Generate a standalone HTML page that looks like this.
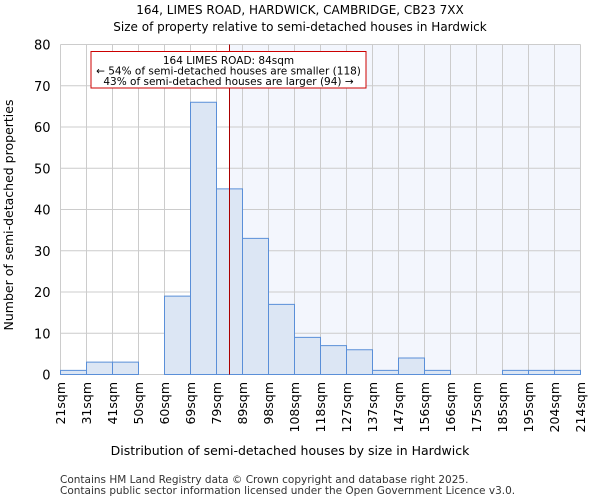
<!DOCTYPE html>
<html><head><meta charset="utf-8"><style>
body{margin:0;background:#fff;font-family:"DejaVu Sans","Liberation Sans",sans-serif}
</style></head><body>
<svg width="600" height="500" viewBox="0 0 600 500" xmlns="http://www.w3.org/2000/svg" font-family="DejaVu Sans, Liberation Sans, sans-serif">
<g id="root"></g>
</svg>
<script>
const binLabels=["21sqm","31sqm","41sqm","50sqm","60sqm","69sqm","79sqm","89sqm","98sqm","108sqm","118sqm","127sqm","137sqm","147sqm","156sqm","166sqm","175sqm","185sqm","195sqm","204sqm","214sqm"];
const counts=[1,3,3,0,19,66,45,33,17,9,7,6,1,4,1,0,0,1,1,1];
const yTicks=[0,10,20,30,40,50,60,70,80];
const markerBin=6.5;
const NS="http://www.w3.org/2000/svg";
const root=document.getElementById('root');
const X0=60.5,BW=26,Y0=374.5,YT=44.5,YMAX=80;
const xs=i=>X0+i*BW;
const ys=v=>Y0-(v/YMAX)*(Y0-YT);
function el(t,a,txt){const e=document.createElementNS(NS,t);for(const k in a)e.setAttribute(k,a[k]);if(txt!==undefined)e.textContent=txt;root.appendChild(e);return e;}
const n=counts.length;const XR=xs(n);
let e;
e=el('text',{x:300,y:14,'text-anchor':'middle','font-size':12},'164, LIMES ROAD, HARDWICK, CAMBRIDGE, CB23 7XX');

e=el('text',{x:300,y:31,'text-anchor':'middle','font-size':12},'Size of property relative to semi-detached houses in Hardwick');

const mx=xs(markerBin);
e=el('rect',{x:mx,y:YT,width:XR-mx,height:Y0-YT,fill:'#f3f6fd'});

for(let i=0;i<=n;i++){e=el('line',{x1:xs(i),x2:xs(i),y1:YT,y2:Y0,stroke:'#cccccc','stroke-width':1});
}
yTicks.forEach(t=>{e=el('line',{x1:X0,x2:XR,y1:ys(t),y2:ys(t),stroke:'#cccccc','stroke-width':1});

e=el('text',{x:X0-10,y:ys(t)+5,'text-anchor':'end','font-size':13},String(t));
});
counts.forEach((c,i)=>{if(c<=0)return;e=el('rect',{x:xs(i),y:ys(c),width:BW,height:Y0-ys(c),fill:'#dce6f4',stroke:'#5a8fd8','stroke-width':1});
});
e=el('line',{x1:mx,x2:mx,y1:YT,y2:Y0,stroke:'#aa0000','stroke-width':1});

binLabels.forEach((l,i)=>{const x=xs(i)+4.5;e=el('text',{x:x,y:382,'text-anchor':'end','font-size':12.5,transform:`rotate(-90 ${x} 382)`},l);
});
e=el('rect',{x:91,y:51.5,width:275,height:36.5,fill:'#fff',stroke:'#cc0000','stroke-width':1});

[['164 LIMES ROAD: 84sqm',62],['← 54% of semi-detached houses are smaller (118)',72.5],['43% of semi-detached houses are larger (94) →',83]].forEach(([t,y])=>{
e=el('text',{x:228.5,y:y+2,'text-anchor':'middle','font-size':10.5},t);});
e=el('text',{x:290,y:455,'text-anchor':'middle','font-size':12.5},'Distribution of semi-detached houses by size in Hardwick');

e=el('text',{x:13,y:215,'text-anchor':'middle','font-size':12.5,transform:'rotate(-90 13 215)'},'Number of semi-detached properties');

e=el('text',{x:60,y:483,'font-size':10.5,fill:'#333'},'Contains HM Land Registry data © Crown copyright and database right 2025.');

e=el('text',{x:60,y:494,'font-size':10.5,fill:'#333'},'Contains public sector information licensed under the Open Government Licence v3.0.');

</script>
</body></html>
